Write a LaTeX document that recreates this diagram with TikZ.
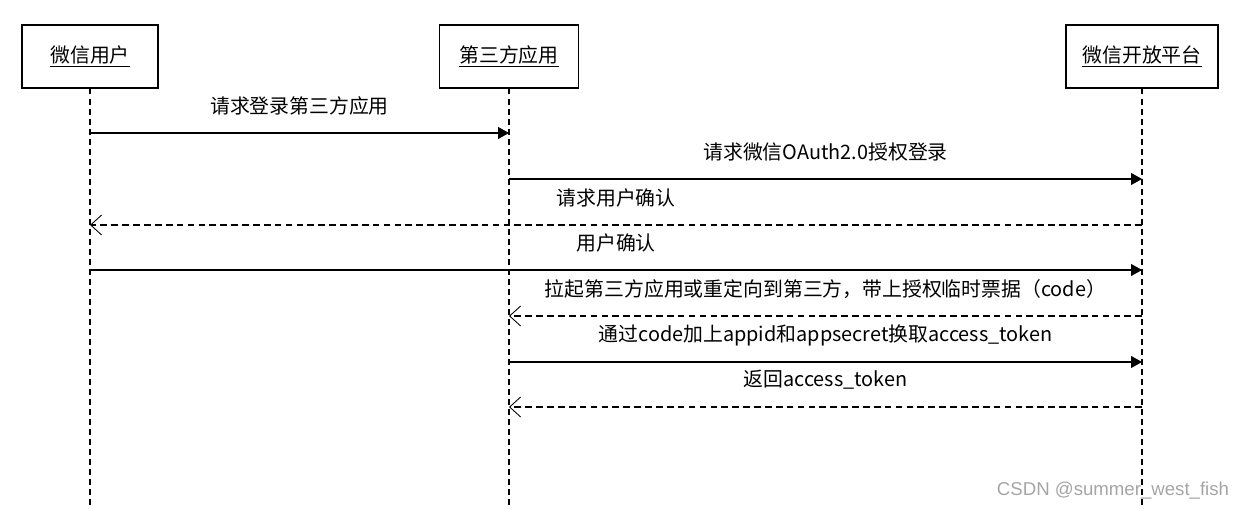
\documentclass[tikz,border=0pt]{standalone}
\usepackage{fontspec}
\setmainfont{Noto Sans CJK SC}
\newfontfamily\wmfont{Liberation Sans}
\usetikzlibrary{arrows.meta}
\definecolor{wmgray}{RGB}{165,165,165}

\begin{document}
\begin{tikzpicture}[x=0.02cm, y=-0.02cm,
        every node/.style={font=\fontsize{11.3pt}{13pt}\selectfont},
        actor/.style={draw, line width=0.6pt, minimum height=1.26cm, inner sep=0pt},
        lifeline/.style={line width=0.6pt, dash pattern=on 3.4pt off 2.3pt},
        call/.style={line width=0.6pt, -{Triangle[length=0.22cm,width=0.24cm]}},
        reply/.style={line width=0.6pt, dash pattern=on 3.8pt off 2.4pt, -{Straight Barb[length=0.22cm,width=0.4cm,line width=0.5pt]}}]

        \useasboundingbox (0,0) rectangle (1245,509);

        %actors
        \node[actor, minimum width=2.72cm] (user) at (90,56.5) {\underline{微信用户}};
        \node[actor, minimum width=2.78cm] (app) at (509,56.5) {\underline{第三方应用}};
        \node[actor, minimum width=3.04cm] (open) at (1142,56.5) {\underline{微信开放平台}};

        %lifelines
        \coordinate (userEnd) at (90,509);
        \coordinate (appEnd) at (509,509);
        \coordinate (openEnd) at (1142,509);
        \draw[lifeline] (user) -- (userEnd);
        \draw[lifeline] (app) -- (appEnd);
        \draw[lifeline] (open) -- (openEnd);

        %messages
        \foreach \y/\src/\dst/\kind/\txt in {
                133/user/app/call/{请求登录第三方应用},
                179/app/open/call/{请求微信OAuth2.0授权登录},
                225/open/user/reply/{请求用户确认},
                270/user/open/call/{用户确认},
                316/open/app/reply/{拉起第三方应用或重定向到第三方，带上授权临时票据（code）},
                362/app/open/call/{通过code加上appid和appsecret换取access\_token},
                407/open/app/reply/{返回access\_token}}
            \draw[\kind] (\src |- 0,\y) -- (\dst |- 0,\y)
                node[midway, yshift=0.54cm] {\txt};

        %watermark
        \node[text=wmgray, font=\wmfont\fontsize{10.6pt}{12pt}\selectfont] (mark) at (1113,491) {CSDN @summer\_west\_fish};

\end{tikzpicture}
\end{document}
